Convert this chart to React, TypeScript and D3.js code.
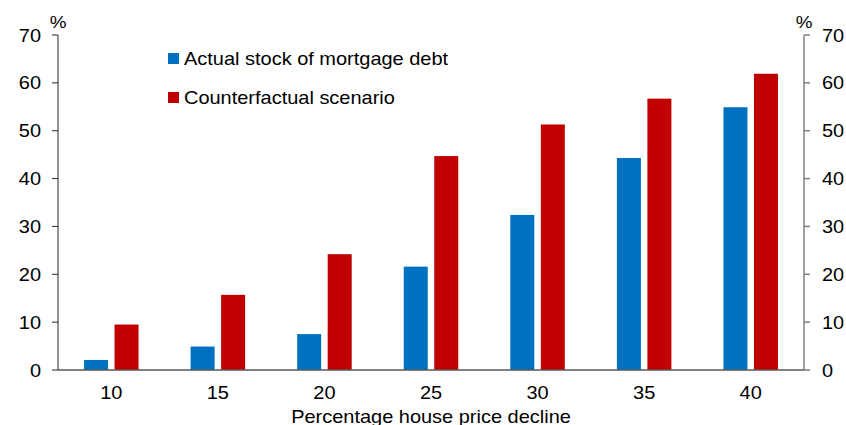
import { useEffect, useRef } from "react"
import * as d3 from "d3"

const categories = ["10", "15", "20", "25", "30", "35", "40"]
const actualStock = [2.1, 4.9, 7.5, 21.6, 32.4, 44.3, 54.9]
const counterfactual = [9.5, 15.7, 24.2, 44.7, 51.3, 56.7, 61.9]
const yTicks = [0, 10, 20, 30, 40, 50, 60, 70]
const seriesNames = ["Actual stock of mortgage debt", "Counterfactual scenario"]
const seriesColors = ["#0070C0", "#C00000"]

export default function App() {
  const svgRef = useRef<SVGSVGElement>(null)

  useEffect(() => {
    if (!svgRef.current) return
    const svg = d3.select(svgRef.current)
    svg.selectAll("*").remove()

    const width = 846
    const height = 425
    const left = 58
    const right = 804
    const top = 35
    const bottom = 370
    const font = "Arial, 'Liberation Sans', sans-serif"
    const stretch = 1.11 // text in the reference is a bit wider than plain Arial

    const x = d3.scaleBand().domain(categories).range([left, right]).paddingInner(0).paddingOuter(0)
    const y = d3.scaleLinear().domain([0, 70]).range([bottom, top])

    const barWidth = 24
    const gap = 6.5

    svg.attr("width", width).attr("height", height).style("font-family", font)

    // text placed with a horizontal stretch
    const label = (g: any, tx: number, ty: number, s: string | number, anchor = "start", size = 18) =>
      g
        .append("text")
        .attr("transform", `translate(${tx},${ty}) scale(${stretch},1)`)
        .attr("text-anchor", anchor)
        .style("font-size", `${size}px`)
        .attr("fill", "#000")
        .text(s)

    const series = [actualStock, counterfactual]
    series.forEach((values, si) => {
      svg
        .append("g")
        .selectAll("rect")
        .data(values)
        .enter()
        .append("rect")
        .attr("x", (d, i) => {
          const c = x(categories[i])! + x.bandwidth() / 2
          return si === 0 ? c - gap / 2 - barWidth : c + gap / 2
        })
        .attr("y", (d) => y(d))
        .attr("width", barWidth)
        .attr("height", (d) => y(0) - y(d))
        .attr("fill", seriesColors[si])
    })

    // left axis
    const leftAxis = svg.append("g")
    leftAxis
      .append("line")
      .attr("x1", left)
      .attr("x2", left)
      .attr("y1", y(70))
      .attr("y2", y(0))
      .attr("stroke", "#262626")
      .attr("stroke-width", 1)
    yTicks.forEach((t) => {
      leftAxis
        .append("line")
        .attr("x1", left - 6)
        .attr("x2", left)
        .attr("y1", y(t))
        .attr("y2", y(t))
        .attr("stroke", "#262626")
      label(leftAxis, 41, y(t) + 6.5, t, "end")
    })

    // right axis
    const rightAxis = svg.append("g")
    rightAxis
      .append("line")
      .attr("x1", right)
      .attr("x2", right)
      .attr("y1", y(70))
      .attr("y2", y(0))
      .attr("stroke", "#808080")
      .attr("stroke-width", 1.5)
    yTicks.forEach((t) => {
      rightAxis
        .append("line")
        .attr("x1", right)
        .attr("x2", right + 6)
        .attr("y1", y(t))
        .attr("y2", y(t))
        .attr("stroke", "#808080")
        .attr("stroke-width", 1.5)
      label(rightAxis, 822, y(t) + 6.5, t, "start")
    })

    // % units
    label(svg, left, 28, "%", "middle", 17)
    label(svg, right, 28, "%", "middle", 17)

    // x baseline
    svg
      .append("line")
      .attr("x1", left)
      .attr("x2", right)
      .attr("y1", y(0))
      .attr("y2", y(0))
      .attr("stroke", "#595959")
      .attr("stroke-width", 1.5)

    // x labels
    const xLabels = svg.append("g")
    categories.forEach((c) => label(xLabels, x(c)! + x.bandwidth() / 2, 399, c, "middle"))

    label(svg, (left + right) / 2, 423, "Percentage house price decline", "middle")

    // legend
    seriesNames.forEach((name, i) => {
      const ly = 58 + i * 39
      svg
        .append("rect")
        .attr("x", 168)
        .attr("y", ly - 5)
        .attr("width", 11)
        .attr("height", 11)
        .attr("fill", seriesColors[i])
      label(svg, 184, ly + 7, name, "start")
    })
  }, [])

  return <svg ref={svgRef} style={{ position: "absolute", left: 0, top: 0 }}></svg>
}
